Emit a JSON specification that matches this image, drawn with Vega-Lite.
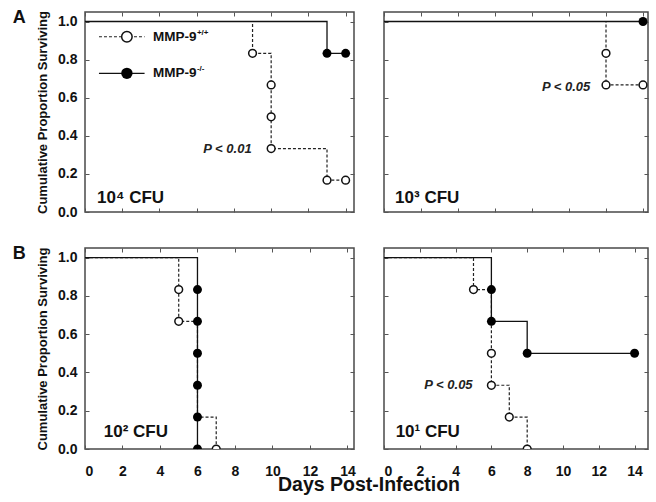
{
  "$schema": "https://vega.github.io/schema/vega-lite/v6.json",
  "padding": {"left": 12, "top": 8, "right": 5, "bottom": 5},
  "background": "white",
  "config": {
    "font": "Liberation Sans",
    "view": {"stroke": "#4a4a4a", "strokeWidth": 1.5},
    "axis": {"grid": false, "domain": false, "tickSize": -4, "tickColor": "#555", "tickWidth": 1, "labelFont": "Liberation Sans", "labelFontWeight": "bold", "labelFontSize": 14, "labelColor": "#111", "titleFont": "Liberation Sans", "titleFontWeight": "bold", "titleFontSize": 13, "titleColor": "#111"},
    "title": {"font": "Liberation Sans", "fontWeight": "bold", "color": "#111"}
  },
  "datasets": {
    "steps": [
      {"p": 1, "g": "wt", "d": 0, "s": 1}, {"p": 1, "g": "wt", "d": 9, "s": 0.833}, {"p": 1, "g": "wt", "d": 10, "s": 0.333}, {"p": 1, "g": "wt", "d": 13, "s": 0.167}, {"p": 1, "g": "wt", "d": 14, "s": 0.167},
      {"p": 1, "g": "ko", "d": 0, "s": 1}, {"p": 1, "g": "ko", "d": 13, "s": 0.833}, {"p": 1, "g": "ko", "d": 14, "s": 0.833},
      {"p": 2, "g": "wt", "d": 0, "s": 1}, {"p": 2, "g": "wt", "d": 12, "s": 0.667}, {"p": 2, "g": "wt", "d": 14, "s": 0.667},
      {"p": 2, "g": "ko", "d": 0, "s": 1}, {"p": 2, "g": "ko", "d": 14, "s": 1},
      {"p": 3, "g": "wt", "d": 0, "s": 1}, {"p": 3, "g": "wt", "d": 5, "s": 0.667}, {"p": 3, "g": "wt", "d": 6, "s": 0.167}, {"p": 3, "g": "wt", "d": 7, "s": 0},
      {"p": 3, "g": "ko", "d": 0, "s": 1}, {"p": 3, "g": "ko", "d": 6, "s": 0},
      {"p": 4, "g": "wt", "d": 0, "s": 1}, {"p": 4, "g": "wt", "d": 5, "s": 0.833}, {"p": 4, "g": "wt", "d": 6, "s": 0.333}, {"p": 4, "g": "wt", "d": 7, "s": 0.167}, {"p": 4, "g": "wt", "d": 8, "s": 0},
      {"p": 4, "g": "ko", "d": 0, "s": 1}, {"p": 4, "g": "ko", "d": 6, "s": 0.667}, {"p": 4, "g": "ko", "d": 8, "s": 0.5}, {"p": 4, "g": "ko", "d": 14, "s": 0.5}
    ],
    "pts": [
      {"p": 1, "g": "wt", "d": 9, "s": 0.833}, {"p": 1, "g": "wt", "d": 10, "s": 0.667}, {"p": 1, "g": "wt", "d": 10, "s": 0.5}, {"p": 1, "g": "wt", "d": 10, "s": 0.333}, {"p": 1, "g": "wt", "d": 13, "s": 0.167}, {"p": 1, "g": "wt", "d": 14, "s": 0.167},
      {"p": 1, "g": "ko", "d": 13, "s": 0.833}, {"p": 1, "g": "ko", "d": 14, "s": 0.833},
      {"p": 2, "g": "wt", "d": 12, "s": 0.833}, {"p": 2, "g": "wt", "d": 12, "s": 0.667}, {"p": 2, "g": "wt", "d": 14, "s": 0.667},
      {"p": 2, "g": "ko", "d": 14, "s": 1},
      {"p": 3, "g": "wt", "d": 5, "s": 0.833}, {"p": 3, "g": "wt", "d": 5, "s": 0.667}, {"p": 3, "g": "wt", "d": 7, "s": 0},
      {"p": 3, "g": "ko", "d": 6, "s": 0.833}, {"p": 3, "g": "ko", "d": 6, "s": 0.667}, {"p": 3, "g": "ko", "d": 6, "s": 0.5}, {"p": 3, "g": "ko", "d": 6, "s": 0.333}, {"p": 3, "g": "ko", "d": 6, "s": 0.167}, {"p": 3, "g": "ko", "d": 6, "s": 0},
      {"p": 4, "g": "wt", "d": 5, "s": 0.833}, {"p": 4, "g": "wt", "d": 6, "s": 0.5}, {"p": 4, "g": "wt", "d": 6, "s": 0.333}, {"p": 4, "g": "wt", "d": 7, "s": 0.167}, {"p": 4, "g": "wt", "d": 8, "s": 0},
      {"p": 4, "g": "ko", "d": 6, "s": 0.833}, {"p": 4, "g": "ko", "d": 6, "s": 0.667}, {"p": 4, "g": "ko", "d": 8, "s": 0.5}, {"p": 4, "g": "ko", "d": 14, "s": 0.5}
    ],
    "cfu": [
      {"p": 1, "label": "10⁴ CFU", "d": 0.65, "s": 0.075},
      {"p": 2, "label": "10³ CFU", "d": 0.6, "s": 0.075},
      {"p": 3, "label": "10² CFU", "d": 1.0, "s": 0.09},
      {"p": 4, "label": "10¹ CFU", "d": 0.65, "s": 0.09}
    ],
    "pval": [
      {"p": 1, "label": "P < 0.01", "d": 8.95, "s": 0.33},
      {"p": 2, "label": "P < 0.05", "d": 11.15, "s": 0.655},
      {"p": 4, "label": "P < 0.05", "d": 4.95, "s": 0.335}
    ],
    "legline": [
      {"g": "wt", "d": 0.75, "s": 0.92}, {"g": "wt", "d": 3.2, "s": 0.92},
      {"g": "ko", "d": 0.75, "s": 0.728}, {"g": "ko", "d": 3.2, "s": 0.728}
    ],
    "legpt": [
      {"g": "wt", "d": 2.25, "s": 0.92, "label": "MMP-9", "sup": "+/+"},
      {"g": "ko", "d": 2.25, "s": 0.728, "label": "MMP-9", "sup": "-/-"}
    ]
  },
  "title": {"text": "Days Post-Infection", "orient": "bottom", "anchor": "middle", "frame": "bounds", "fontSize": 19.5, "offset": -3, "dx": 38},
  "spacing": 25,
  "vconcat": [
    {
      "title": {"text": "A", "anchor": "start", "frame": "bounds", "fontSize": 18, "offset": -17, "dx": -23},
      "spacing": 24,
      "hconcat": [
        {
          "width": 269, "height": 200,
          "resolve": {"axis": {"x": "independent", "y": "independent"}},
          "layer": [
            {"data": {"name": "steps"}, "transform": [{"filter": "datum.p == 1 && datum.g == 'wt'"}],
             "mark": {"type": "line", "interpolate": "step-after", "strokeDash": [3, 2], "strokeWidth": 1.2, "color": "#222"},
             "encoding": {
               "x": {"field": "d", "type": "quantitative", "scale": {"domain": [0, 14.45], "nice": false}, "axis": {"orient": "bottom", "labels": false, "title": null, "values": [0, 2, 4, 6, 8, 10, 12, 14]}},
               "y": {"field": "s", "type": "quantitative", "scale": {"domain": [0, 1.05], "nice": false}, "axis": {"orient": "left", "title": "Cumulative Proportion Surviving", "values": [0, 0.2, 0.4, 0.6, 0.8, 1.0], "format": ".1f", "labelPadding": 12, "titlePadding": 8}}
             }},
            {"data": {"name": "steps"}, "transform": [{"filter": "datum.p == 1 && datum.g == 'ko'"}],
             "mark": {"type": "line", "interpolate": "step-after", "strokeWidth": 1.3, "color": "#111"},
             "encoding": {
               "x": {"field": "d", "type": "quantitative", "axis": {"orient": "top", "labels": false, "title": null, "values": [0, 2, 4, 6, 8, 10, 12, 14]}},
               "y": {"field": "s", "type": "quantitative", "axis": {"orient": "right", "labels": false, "title": null, "values": [0, 0.2, 0.4, 0.6, 0.8, 1.0]}}
             }},
            {"data": {"name": "pts"}, "transform": [{"filter": "datum.p == 1 && datum.g == 'wt'"}],
             "mark": {"type": "point", "shape": "circle", "filled": true, "fill": "white", "stroke": "#111", "strokeWidth": 1.5, "size": 60, "opacity": 1, "clip": true},
             "encoding": {"x": {"field": "d", "type": "quantitative", "axis": null}, "y": {"field": "s", "type": "quantitative", "axis": null}}},
            {"data": {"name": "pts"}, "transform": [{"filter": "datum.p == 1 && datum.g == 'ko'"}],
             "mark": {"type": "point", "shape": "circle", "filled": true, "fill": "#000", "size": 80, "opacity": 1, "clip": true},
             "encoding": {"x": {"field": "d", "type": "quantitative", "axis": null}, "y": {"field": "s", "type": "quantitative", "axis": null}}},
            {"data": {"name": "cfu"}, "transform": [{"filter": "datum.p == 1"}],
             "mark": {"type": "text", "align": "left", "baseline": "middle", "fontSize": 17, "fontWeight": "bold", "color": "#111"},
             "encoding": {"x": {"field": "d", "type": "quantitative", "axis": null}, "y": {"field": "s", "type": "quantitative", "axis": null}, "text": {"field": "label"}}},
            {"data": {"name": "pval"}, "transform": [{"filter": "datum.p == 1"}],
             "mark": {"type": "text", "align": "right", "baseline": "middle", "fontSize": 13, "fontWeight": "bold", "fontStyle": "italic", "color": "#222"},
             "encoding": {"x": {"field": "d", "type": "quantitative", "axis": null}, "y": {"field": "s", "type": "quantitative", "axis": null}, "text": {"field": "label"}}},
            {"data": {"name": "legline"}, "transform": [{"filter": "datum.g == 'wt'"}],
             "mark": {"type": "line", "strokeDash": [3, 2], "strokeWidth": 1.2, "color": "#222"},
             "encoding": {"x": {"field": "d", "type": "quantitative", "axis": null}, "y": {"field": "s", "type": "quantitative", "axis": null}}},
            {"data": {"name": "legline"}, "transform": [{"filter": "datum.g == 'ko'"}],
             "mark": {"type": "line", "strokeWidth": 1.3, "color": "#111"},
             "encoding": {"x": {"field": "d", "type": "quantitative", "axis": null}, "y": {"field": "s", "type": "quantitative", "axis": null}}},
            {"data": {"name": "legpt"}, "transform": [{"filter": "datum.g == 'wt'"}],
             "mark": {"type": "point", "shape": "circle", "filled": true, "fill": "white", "stroke": "#111", "strokeWidth": 1.5, "size": 110, "opacity": 1},
             "encoding": {"x": {"field": "d", "type": "quantitative", "axis": null}, "y": {"field": "s", "type": "quantitative", "axis": null}}},
            {"data": {"name": "legpt"}, "transform": [{"filter": "datum.g == 'ko'"}],
             "mark": {"type": "point", "shape": "circle", "filled": true, "fill": "#000", "size": 130, "opacity": 1},
             "encoding": {"x": {"field": "d", "type": "quantitative", "axis": null}, "y": {"field": "s", "type": "quantitative", "axis": null}}},
            {"data": {"name": "legpt"},
             "mark": {"type": "text", "align": "left", "baseline": "middle", "fontSize": 13.5, "fontWeight": "bold", "color": "#111", "dx": 26},
             "encoding": {"x": {"field": "d", "type": "quantitative", "axis": null}, "y": {"field": "s", "type": "quantitative", "axis": null}, "text": {"field": "label"}}},
            {"data": {"name": "legpt"},
             "mark": {"type": "text", "align": "left", "baseline": "middle", "fontSize": 8, "fontWeight": "bold", "color": "#111", "dx": 70, "dy": -4},
             "encoding": {"x": {"field": "d", "type": "quantitative", "axis": null}, "y": {"field": "s", "type": "quantitative", "axis": null}, "text": {"field": "sup"}}}
          ]
        },
        {
          "width": 264, "height": 200,
          "resolve": {"axis": {"x": "independent", "y": "independent"}},
          "layer": [
            {"data": {"name": "steps"}, "transform": [{"filter": "datum.p == 2 && datum.g == 'wt'"}],
             "mark": {"type": "line", "interpolate": "step-after", "strokeDash": [3, 2], "strokeWidth": 1.2, "color": "#222"},
             "encoding": {
               "x": {"field": "d", "type": "quantitative", "scale": {"domain": [0, 14.27], "nice": false}, "axis": {"orient": "bottom", "labels": false, "title": null, "values": [0, 2, 4, 6, 8, 10, 12, 14]}},
               "y": {"field": "s", "type": "quantitative", "scale": {"domain": [0, 1.05], "nice": false}, "axis": {"orient": "left", "labels": false, "title": null, "values": [0, 0.2, 0.4, 0.6, 0.8, 1.0]}}
             }},
            {"data": {"name": "steps"}, "transform": [{"filter": "datum.p == 2 && datum.g == 'ko'"}],
             "mark": {"type": "line", "interpolate": "step-after", "strokeWidth": 1.3, "color": "#111"},
             "encoding": {
               "x": {"field": "d", "type": "quantitative", "axis": {"orient": "top", "labels": false, "title": null, "values": [0, 2, 4, 6, 8, 10, 12, 14]}},
               "y": {"field": "s", "type": "quantitative", "axis": {"orient": "right", "labels": false, "title": null, "values": [0, 0.2, 0.4, 0.6, 0.8, 1.0]}}
             }},
            {"data": {"name": "pts"}, "transform": [{"filter": "datum.p == 2 && datum.g == 'wt'"}],
             "mark": {"type": "point", "shape": "circle", "filled": true, "fill": "white", "stroke": "#111", "strokeWidth": 1.5, "size": 60, "opacity": 1, "clip": true},
             "encoding": {"x": {"field": "d", "type": "quantitative", "axis": null}, "y": {"field": "s", "type": "quantitative", "axis": null}}},
            {"data": {"name": "pts"}, "transform": [{"filter": "datum.p == 2 && datum.g == 'ko'"}],
             "mark": {"type": "point", "shape": "circle", "filled": true, "fill": "#000", "size": 80, "opacity": 1},
             "encoding": {"x": {"field": "d", "type": "quantitative", "axis": null}, "y": {"field": "s", "type": "quantitative", "axis": null}}},
            {"data": {"name": "cfu"}, "transform": [{"filter": "datum.p == 2"}],
             "mark": {"type": "text", "align": "left", "baseline": "middle", "fontSize": 17, "fontWeight": "bold", "color": "#111"},
             "encoding": {"x": {"field": "d", "type": "quantitative", "axis": null}, "y": {"field": "s", "type": "quantitative", "axis": null}, "text": {"field": "label"}}},
            {"data": {"name": "pval"}, "transform": [{"filter": "datum.p == 2"}],
             "mark": {"type": "text", "align": "right", "baseline": "middle", "fontSize": 13, "fontWeight": "bold", "fontStyle": "italic", "color": "#222"},
             "encoding": {"x": {"field": "d", "type": "quantitative", "axis": null}, "y": {"field": "s", "type": "quantitative", "axis": null}, "text": {"field": "label"}}}
          ]
        }
      ]
    },
    {
      "title": {"text": "B", "anchor": "start", "frame": "bounds", "fontSize": 18, "offset": -17, "dx": -23},
      "spacing": 24,
      "hconcat": [
        {
          "width": 269, "height": 201,
          "resolve": {"axis": {"x": "independent", "y": "independent"}},
          "layer": [
            {"data": {"name": "steps"}, "transform": [{"filter": "datum.p == 3 && datum.g == 'wt'"}],
             "mark": {"type": "line", "interpolate": "step-after", "strokeDash": [3, 2], "strokeWidth": 1.2, "color": "#222"},
             "encoding": {
               "x": {"field": "d", "type": "quantitative", "scale": {"domain": [0, 14.35], "nice": false}, "axis": {"orient": "bottom", "title": null, "values": [0, 2, 4, 6, 8, 10, 12, 14], "labelPadding": 19}},
               "y": {"field": "s", "type": "quantitative", "scale": {"domain": [0, 1.05], "nice": false}, "axis": {"orient": "left", "title": "Cumulative Proportion Surviving", "values": [0, 0.2, 0.4, 0.6, 0.8, 1.0], "format": ".1f", "labelPadding": 12, "titlePadding": 8}}
             }},
            {"data": {"name": "steps"}, "transform": [{"filter": "datum.p == 3 && datum.g == 'ko'"}],
             "mark": {"type": "line", "interpolate": "step-after", "strokeWidth": 1.3, "color": "#111"},
             "encoding": {
               "x": {"field": "d", "type": "quantitative", "axis": {"orient": "top", "labels": false, "title": null, "values": [0, 2, 4, 6, 8, 10, 12, 14]}},
               "y": {"field": "s", "type": "quantitative", "axis": {"orient": "right", "labels": false, "title": null, "values": [0, 0.2, 0.4, 0.6, 0.8, 1.0]}}
             }},
            {"data": {"name": "pts"}, "transform": [{"filter": "datum.p == 3 && datum.g == 'wt'"}],
             "mark": {"type": "point", "shape": "circle", "filled": true, "fill": "white", "stroke": "#111", "strokeWidth": 1.5, "size": 60, "opacity": 1, "clip": true},
             "encoding": {"x": {"field": "d", "type": "quantitative", "axis": null}, "y": {"field": "s", "type": "quantitative", "axis": null}}},
            {"data": {"name": "pts"}, "transform": [{"filter": "datum.p == 3 && datum.g == 'ko'"}],
             "mark": {"type": "point", "shape": "circle", "filled": true, "fill": "#000", "size": 80, "opacity": 1, "clip": true},
             "encoding": {"x": {"field": "d", "type": "quantitative", "axis": null}, "y": {"field": "s", "type": "quantitative", "axis": null}}},
            {"data": {"name": "cfu"}, "transform": [{"filter": "datum.p == 3"}],
             "mark": {"type": "text", "align": "left", "baseline": "middle", "fontSize": 17, "fontWeight": "bold", "color": "#111"},
             "encoding": {"x": {"field": "d", "type": "quantitative", "axis": null}, "y": {"field": "s", "type": "quantitative", "axis": null}, "text": {"field": "label"}}}
          ]
        },
        {
          "width": 264, "height": 201,
          "resolve": {"axis": {"x": "independent", "y": "independent"}},
          "layer": [
            {"data": {"name": "steps"}, "transform": [{"filter": "datum.p == 4 && datum.g == 'wt'"}],
             "mark": {"type": "line", "interpolate": "step-after", "strokeDash": [3, 2], "strokeWidth": 1.2, "color": "#222"},
             "encoding": {
               "x": {"field": "d", "type": "quantitative", "scale": {"domain": [0, 14.75], "nice": false}, "axis": {"orient": "bottom", "title": null, "values": [0, 2, 4, 6, 8, 10, 12, 14], "labelPadding": 19}},
               "y": {"field": "s", "type": "quantitative", "scale": {"domain": [0, 1.05], "nice": false}, "axis": {"orient": "left", "labels": false, "title": null, "values": [0, 0.2, 0.4, 0.6, 0.8, 1.0]}}
             }},
            {"data": {"name": "steps"}, "transform": [{"filter": "datum.p == 4 && datum.g == 'ko'"}],
             "mark": {"type": "line", "interpolate": "step-after", "strokeWidth": 1.3, "color": "#111"},
             "encoding": {
               "x": {"field": "d", "type": "quantitative", "axis": {"orient": "top", "labels": false, "title": null, "values": [0, 2, 4, 6, 8, 10, 12, 14]}},
               "y": {"field": "s", "type": "quantitative", "axis": {"orient": "right", "labels": false, "title": null, "values": [0, 0.2, 0.4, 0.6, 0.8, 1.0]}}
             }},
            {"data": {"name": "pts"}, "transform": [{"filter": "datum.p == 4 && datum.g == 'wt'"}],
             "mark": {"type": "point", "shape": "circle", "filled": true, "fill": "white", "stroke": "#111", "strokeWidth": 1.5, "size": 60, "opacity": 1, "clip": true},
             "encoding": {"x": {"field": "d", "type": "quantitative", "axis": null}, "y": {"field": "s", "type": "quantitative", "axis": null}}},
            {"data": {"name": "pts"}, "transform": [{"filter": "datum.p == 4 && datum.g == 'ko'"}],
             "mark": {"type": "point", "shape": "circle", "filled": true, "fill": "#000", "size": 80, "opacity": 1, "clip": true},
             "encoding": {"x": {"field": "d", "type": "quantitative", "axis": null}, "y": {"field": "s", "type": "quantitative", "axis": null}}},
            {"data": {"name": "cfu"}, "transform": [{"filter": "datum.p == 4"}],
             "mark": {"type": "text", "align": "left", "baseline": "middle", "fontSize": 17, "fontWeight": "bold", "color": "#111"},
             "encoding": {"x": {"field": "d", "type": "quantitative", "axis": null}, "y": {"field": "s", "type": "quantitative", "axis": null}, "text": {"field": "label"}}},
            {"data": {"name": "pval"}, "transform": [{"filter": "datum.p == 4"}],
             "mark": {"type": "text", "align": "right", "baseline": "middle", "fontSize": 13, "fontWeight": "bold", "fontStyle": "italic", "color": "#222"},
             "encoding": {"x": {"field": "d", "type": "quantitative", "axis": null}, "y": {"field": "s", "type": "quantitative", "axis": null}, "text": {"field": "label"}}}
          ]
        }
      ]
    }
  ]
}
